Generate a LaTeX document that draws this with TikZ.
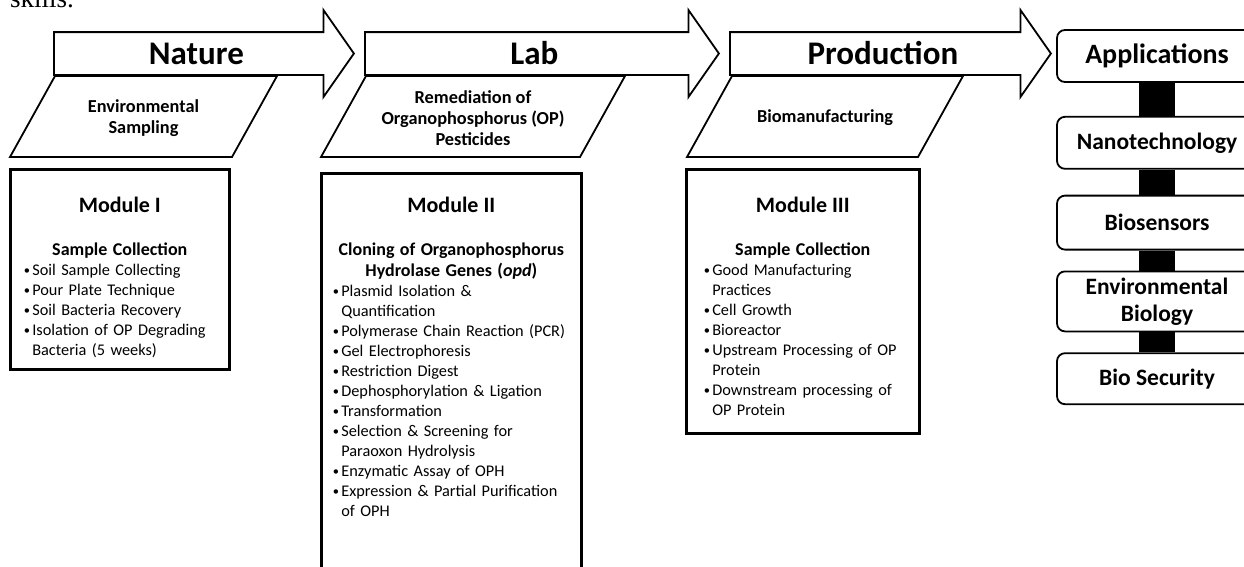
\documentclass[tikz,border=0pt]{standalone}
\usepackage{fontspec}
\setmainfont{Carlito}
\newfontfamily\docserif{Liberation Serif}
\usetikzlibrary{shapes.arrows,positioning}

% heading font inside the module boxes
\newcommand\modheadfont{\fontsize{18}{21}\selectfont\bfseries}
% one bullet line with hanging indent
\newcommand\bitem[1]{\par\hangindent=8.5pt\hangafter=1\noindent\makebox[8.5pt][l]{\raisebox{1pt}{\fontsize{12.5}{13}\selectfont\textbullet}}#1}

\begin{document}
\begin{tikzpicture}[
  x=1pt, y=-1pt,
  stage/.style={single arrow, draw, line width=1.8pt, anchor=tail, single arrow head extend=22pt, single arrow tip angle=110, inner xsep=0pt, inner ysep=0pt, text height=31.15pt, text depth=9.85pt, font=\fontsize{33}{38}\selectfont\bfseries},
  theme/.style={draw, line width=1.8pt},
  themetext/.style={align=center, inner sep=0pt, font=\fontsize{18.3}{21}\selectfont\bfseries},
  modbox/.style={rectangle, draw, line width=2.6pt, anchor=north west},
  modtitle/.style={inner sep=0pt, anchor=north, font=\fontsize{22}{26}\selectfont\bfseries},
  modbody/.style={inner sep=0pt, anchor=north, font=\fontsize{16.3}{20}\selectfont},
  appbox/.style={rectangle, rounded corners=8pt, draw, line width=1.8pt, minimum width=200pt, minimum height=52pt, align=flush center, font=\fontsize{23.5}{27}\selectfont\bfseries},
  link/.style={line width=36pt},
]
  \useasboundingbox (0,0) rectangle (1244,566);
  \clip (0,0) rectangle (1244,566);

  \node[anchor=base west, inner sep=0pt, font=\docserif\fontsize{27}{30}\selectfont] (skills) at (10,7) {skills.};

  % stages
  \node[stage, minimum height=300pt] (nature) at (53,53.5) {Nature};
  \node[stage, minimum height=354pt] (lab) at (364,53.5) {Lab};
  \node[stage, minimum height=321pt] (prod) at (729,53.5) {Production};

  % slanted theme boxes under the stages
  \draw[theme] (10,157) -- ++(45,-81) -- ++(222,0) -- ++(-45,81) -- cycle;
  \draw[theme] (321,157) -- ++(45,-81) -- ++(259,0) -- ++(-45,81) -- cycle;
  \draw[theme] (687,157) -- ++(45,-81) -- ++(231,0) -- ++(-45,81) -- cycle;
  \node[themetext] (field) at (143.5,118) {Environmental\\Sampling};
  \node[themetext] (remed) at (473,118) {Remediation of\\Organophosphorus (OP)\\Pesticides};
  \node[themetext] (biomf) at (825,118) {Biomanufacturing};

  % module I
  \node[modbox, minimum width=219pt, minimum height=200pt] (box1) at (9,168) {};
  \node[modtitle, below=28.5pt of box1.north] (title1) {Module I};
  \node[modbody, text width=192pt, below=30pt of title1.south] (body1) {\raggedright
    {\centering\modheadfont Sample Collection\par}
    \bitem{Soil Sample Collecting}
    \bitem{Pour Plate Technique}
    \bitem{Soil Bacteria Recovery}
    \bitem{Isolation of OP Degrading\newline Bacteria (5 weeks)}\par};

  % module II
  \node[modbox, minimum width=260pt, minimum height=420pt] (box2) at (320,172) {};
  \node[modtitle, below=24.5pt of box2.north] (title2) {Module II};
  \node[modbody, text width=237pt, below=30pt of title2.south] (body2) {\raggedright
    {\centering\modheadfont Cloning of Organophosphorus\\Hydrolase Genes (\textit{opd})\par}
    \bitem{Plasmid Isolation \&\newline Quantification}
    \bitem{Polymerase Chain Reaction (PCR)}
    \bitem{Gel Electrophoresis}
    \bitem{Restriction Digest}
    \bitem{Dephosphorylation \& Ligation}
    \bitem{Transformation}
    \bitem{Selection \& Screening for\newline Paraoxon Hydrolysis}
    \bitem{Enzymatic Assay of OPH}
    \bitem{Expression \& Partial Purification\newline of OPH}\par};

  % module III
  \node[modbox, minimum width=233pt, minimum height=264pt] (box3) at (685,168) {};
  \node[modtitle, below=28.5pt of box3.north] (title3) {Module III};
  \node[modbody, text width=198pt, below=30pt of title3.south] (body3) {\raggedright
    {\centering\modheadfont Sample Collection\par}
    \bitem{Good Manufacturing\newline Practices}
    \bitem{Cell Growth}
    \bitem{Bioreactor}
    \bitem{Upstream Processing of OP\newline Protein}
    \bitem{Downstream processing of\newline OP Protein}\par};

  % applications column
  \node[appbox, font=\fontsize{28}{32}\selectfont\bfseries] (apps) at (1157,56) {Applications};
  \node[appbox, below=33pt of apps] (nano) {Nanotechnology};
  \node[appbox, below=25pt of nano, minimum height=54pt] (sens) {Biosensors};
  \node[appbox, below=20pt of sens, minimum height=60pt] (envbio) {Environmental\\Biology};
  \node[appbox, below=20pt of envbio, minimum height=51pt] (biosec) {Bio Security};

  \draw[link] (apps) -- (nano);
  \draw[link] (nano) -- (sens);
  \draw[link] (sens) -- (envbio);
  \draw[link] (envbio) -- (biosec);
\end{tikzpicture}
\end{document}
